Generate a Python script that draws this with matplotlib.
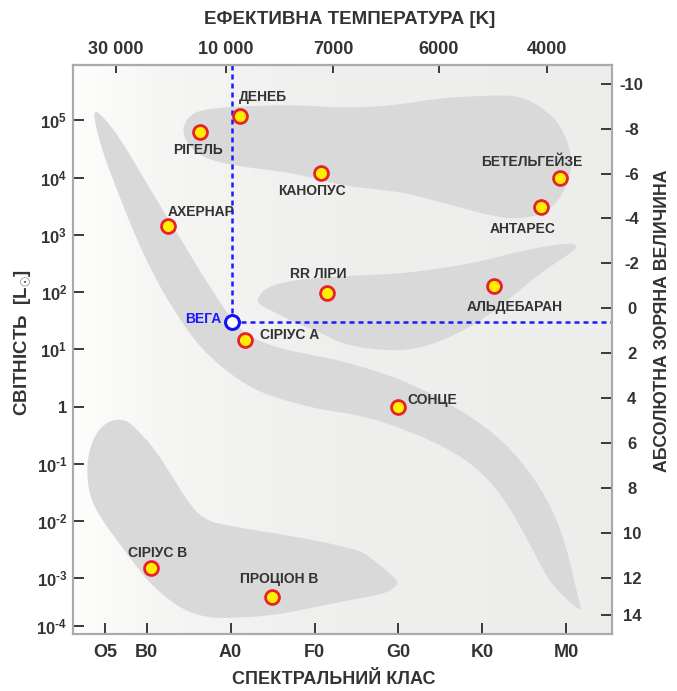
import numpy as np
import matplotlib
matplotlib.use("Agg")
import matplotlib.pyplot as plt

plt.rcParams['font.family'] = ['Liberation Sans', 'DejaVu Sans']
plt.rcParams['font.weight'] = 'bold'
plt.rcParams['axes.labelweight'] = 'bold'
plt.rcParams['mathtext.fontset'] = 'custom'
plt.rcParams['mathtext.rm'] = 'Liberation Sans:bold'
plt.rcParams['mathtext.it'] = 'Liberation Sans:bold'
plt.rcParams['mathtext.bf'] = 'Liberation Sans:bold'

# spectral class axis: B0 = 0, A0 = 1, F0 = 2, G0 = 3, K0 = 4, M0 = 5
class_labels = ["O5", "B0", "A0", "F0", "G0", "K0", "M0"]
class_pos = [-0.5, 0, 1, 2, 3, 4, 5]

temp_labels = ["30 000", "10 000", "7000", "6000", "4000"]
temp_pos = [-0.37, 0.94, 2.22, 3.48, 4.77]

lum_ticks = [1e5, 1e4, 1e3, 1e2, 1e1, 1, 1e-1, 1e-2, 1e-3, 1e-4]
lum_labels = ["$10^{5}$", "$10^{4}$", "$10^{3}$", "$10^{2}$", "$10^{1}$", "1",
              r"$10^{\text{-}1}$", r"$10^{\text{-}2}$", r"$10^{\text{-}3}$", r"$10^{\text{-}4}$"]

mag_ticks = [-10, -8, -6, -4, -2, 0, 2, 4, 6, 8, 10, 12, 14]
# M = MAG_ZERO - MAG_SLOPE * log10(L)
MAG_ZERO = 4.38
MAG_SLOPE = 2.55

star_names = ["ДЕНЕБ", "РІГЕЛЬ", "КАНОПУС", "БЕТЕЛЬГЕЙЗЕ", "АНТАРЕС", "АХЕРНАР",
              "RR ЛІРИ", "АЛЬДЕБАРАН", "СІРІУС А", "СОНЦЕ", "СІРІУС В", "ПРОЦІОН В"]
star_class = [1.11, 0.64, 2.08, 4.93, 4.70, 0.25, 2.15, 4.14, 1.17, 3.00, 0.05, 1.49]
star_lum = [1.2e5, 6.2e4, 1.2e4, 1.0e4, 3.0e3, 1.4e3, 95, 130, 14.5, 1.0, 1.5e-3, 4.1e-4]

vega_name = "ВЕГА"
vega_class = 1.02
vega_lum = 30

# outlines of the shaded regions (spectral class, log10 L)
ms_x = [-0.628, -0.473, -0.282, -0.044, 0.194, 0.433, 0.671, 0.897, 1.064, 1.255, 1.529,
        1.887, 2.304, 3.103, 3.889, 4.366, 4.771, 5.010, 5.165, 5.188, 4.843, 4.604, 4.366,
        4.092, 3.698, 3.103, 2.542, 2.101, 1.708, 1.315, 0.993, 0.695, 0.516, 0.349, 0.159,
        -0.044, -0.199, -0.354, -0.521, -0.616]
ms_logl = [5.20, 4.99, 4.60, 4.01, 3.43, 2.86, 2.28, 1.77, 1.42, 1.20, 1.04,
           0.92, 0.81, 0.45, -0.18, -0.76, -1.58, -2.45, -3.56, -3.73, -3.18, -2.51, -1.86,
           -1.28, -0.81, -0.41, -0.15, -0.06, 0.08, 0.27, 0.57, 0.95, 1.27, 1.63, 2.09,
           2.68, 3.21, 3.78, 4.43, 4.95]

sg_x = [0.421, 0.492, 0.635, 1.029, 1.744, 2.304, 2.900, 3.500, 4.175, 4.450, 4.688, 4.891,
        5.010, 5.069, 5.045, 4.962, 4.843, 4.688, 4.450, 4.175, 3.698, 3.103, 2.697, 2.304,
        1.744, 1.231, 0.838, 0.635, 0.492]
sg_logl = [4.83, 5.06, 5.18, 5.24, 5.27, 5.22, 5.25, 5.39, 5.44, 5.42, 5.25, 4.99,
           4.66, 4.31, 4.01, 3.73, 3.49, 3.35, 3.28, 3.31, 3.49, 3.73, 3.80, 3.87,
           4.08, 4.17, 4.27, 4.39, 4.57]

gb_x = [1.311, 1.430, 1.747, 2.145, 2.661, 3.099, 3.893, 4.489, 5.006, 5.132, 5.085, 4.688,
        4.211, 3.814, 3.218, 2.701, 2.304, 2.105, 1.747, 1.549, 1.350]
gb_logl = [1.88, 2.09, 2.21, 2.26, 2.30, 2.33, 2.50, 2.73, 2.86, 2.82, 2.71, 2.33,
           1.74, 1.34, 0.98, 0.99, 1.11, 1.27, 1.48, 1.63, 1.77]

wd_x = [-0.330, -0.220, -0.119, 0.079, 0.278, 0.477, 0.675, 1.032, 1.509, 1.986, 2.542,
        2.701, 2.900, 3.019, 2.861, 2.622, 2.304, 1.549, 1.032, 0.715, 0.436, 0.159,
        -0.119, -0.358, -0.557, -0.676, -0.715, -0.690, -0.600, -0.470]
wd_logl = [-0.22, -0.26, -0.40, -0.71, -1.16, -1.63, -1.98, -2.10, -2.21, -2.33, -2.51,
           -2.68, -2.91, -3.10, -3.31, -3.40, -3.50, -3.78, -3.84, -3.83, -3.67, -3.31,
           -2.80, -2.33, -1.93, -1.58, -1.16, -0.78, -0.45, -0.27]

# label placement: offset in pixels from the star and alignment
LABEL_LAYOUT = {
    "ДЕНЕБ": (-1, 19, "left"),
    "РІГЕЛЬ": (-2, -18, "center"),
    "КАНОПУС": (-9, -18, "center"),
    "БЕТЕЛЬГЕЙЗЕ": (-29, 16, "center"),
    "АНТАРЕС": (-18, -22, "center"),
    "АХЕРНАР": (0, 14, "left"),
    "RR ЛІРИ": (-9, 19, "center"),
    "АЛЬДЕБАРАН": (21, -21, "center"),
    "СІРІУС А": (15, 5, "left"),
    "СОНЦЕ": (9, 7, "left"),
    "СІРІУС В": (7, 15, "center"),
    "ПРОЦІОН В": (7, 18, "center"),
}

TEXT = "#333333"
SHADE = "#d9d9d9"
SPINE = "#aaaaaa"
TICK = "#3a3a3a"

# the luminosity scale of the picture is squeezed below 1e-3
K_LOW = 0.826


def to_screen(L):
    u = np.log10(np.clip(L, 1e-300, None))
    return np.where(u >= -3, u, -3 + (u + 3) * K_LOW)


def from_screen(v):
    v = np.asarray(v, dtype=float)
    return np.where(v >= -3, 10.0 ** v, 10.0 ** (-3 + (v + 3) / K_LOW))


def mag_to_lum(m):
    return 10.0 ** ((MAG_ZERO - np.asarray(m, dtype=float)) / MAG_SLOPE)


def smooth(xs, ys, rounds=2):
    pts = np.column_stack([xs, ys])
    for _ in range(rounds):
        nxt = np.roll(pts, -1, axis=0)
        out = np.empty((2 * len(pts), 2))
        out[0::2] = 0.75 * pts + 0.25 * nxt
        out[1::2] = 0.25 * pts + 0.75 * nxt
        pts = out
    return pts[:, 0], pts[:, 1]


XLIM = (-0.882, 5.542)
YLIM = (10 ** -4.184, 10 ** 5.966)

fig = plt.figure(figsize=(6.77, 6.91), dpi=100)
ax = fig.add_axes([0.1074, 0.0821, 0.7961, 0.8238])
ax.set_xlim(*XLIM)
ax.set_yscale('function', functions=(to_screen, from_screen))
ax.set_ylim(*YLIM)
ax.set_autoscale_on(False)

# background gradient, white on the left to light gray
frac = np.linspace(0, 1, 400)
g = np.interp(frac, [0, 0.15, 0.45, 1], [0.995, 0.965, 0.938, 0.93])
img = np.dstack([g, g, g * 0.995])
ax.imshow(img, extent=[0, 1, 0, 1], transform=ax.transAxes, aspect='auto',
          interpolation='bilinear', zorder=0)

for sx, sy in [(ms_x, ms_logl), (sg_x, sg_logl), (gb_x, gb_logl), (wd_x, wd_logl)]:
    px, py = smooth(sx, sy)
    ax.fill(px, 10.0 ** py, color=SHADE, lw=0, zorder=1)

# Vega guide lines
ax.plot([vega_class, vega_class], [vega_lum, YLIM[1]], color="#1a1aff", lw=1.8,
        ls=(0, (2, 1.6)), zorder=2)
ax.plot([vega_class, XLIM[1]], [vega_lum, vega_lum], color="#1a1aff", lw=1.8,
        ls=(0, (2, 1.6)), zorder=2)

ax.plot(star_class, star_lum, ls='none', marker='o', ms=10, mfc="#ffee00",
        mec="#e8212b", mew=2, zorder=4)
ax.plot([vega_class], [vega_lum], ls='none', marker='o', ms=10, mfc="white",
        mec="#1414f0", mew=2.2, zorder=4)

for name, x, L in zip(star_names, star_class, star_lum):
    dx, dy, ha = LABEL_LAYOUT[name]
    ax.annotate(name, (x, L), xytext=(dx, dy), textcoords='offset pixels',
                ha=ha, va='center', fontsize=10, color=TEXT, zorder=5)
ax.annotate(vega_name, (vega_class, vega_lum), xytext=(-11, 3), textcoords='offset pixels',
            ha='right', va='center', fontsize=10, color="#1a1aff", zorder=5)

# bottom / left axes
ax.set_xticks(class_pos, class_labels)
ax.set_yticks(lum_ticks, lum_labels)
ax.minorticks_off()
ax.tick_params(axis='both', direction='in', length=8, width=1.4, color=TICK,
               labelcolor=TEXT, right=False, top=False)
ax.tick_params(axis='x', labelsize=13, pad=7)
ax.tick_params(axis='y', labelsize=12, pad=4)

# top: effective temperature
sec = ax.secondary_xaxis('top')
sec.set_xticks(temp_pos, temp_labels)
sec.tick_params(direction='in', length=6, width=1.4, color=TICK, labelcolor=TEXT,
                labelsize=13, pad=5)

# right: absolute magnitude
tw = ax.twinx()
tw.set_ylim(float(to_screen(YLIM[0])), float(to_screen(YLIM[1])))
tw.set_yticks(to_screen(mag_to_lum(mag_ticks)), [str(m) for m in mag_ticks])
tw.tick_params(direction='in', length=8, width=1.4, color=TICK, labelcolor=TEXT,
               labelsize=12, pad=14.5)
for lbl in tw.get_yticklabels():
    lbl.set_horizontalalignment('center')

for a in (ax, tw, sec):
    for s in a.spines.values():
        s.set_color(SPINE)
        s.set_linewidth(1.5)

ax.set_xlabel('СПЕКТРАЛЬНИЙ КЛАС', fontsize=13, fontweight='bold', color=TEXT,
              ha='center', va='center')
ax.xaxis.set_label_coords(0.4848, -0.0803)
ax.set_ylabel(r'СВІТНІСТЬ  [L$_{\odot}$]', fontsize=13.5, fontweight='bold', color=TEXT,
              ha='center', va='center')
ax.yaxis.set_label_coords(-0.0922, 0.5126)
sec.set_xlabel('ЕФЕКТИВНА ТЕМПЕРАТУРА [K]', fontsize=13.5, fontweight='bold', color=TEXT,
               ha='center', va='center')
sec.xaxis.set_label_coords(0.5145, 1.0808, transform=ax.transAxes)
tw.set_ylabel('АБСОЛЮТНА ЗОРЯНА ВЕЛИЧИНА', fontsize=12.8, fontweight='bold', color=TEXT,
              rotation=90, ha='center', va='center')
tw.yaxis.set_label_coords(1.095, 0.55)

fig.savefig('out.png', dpi=100)
